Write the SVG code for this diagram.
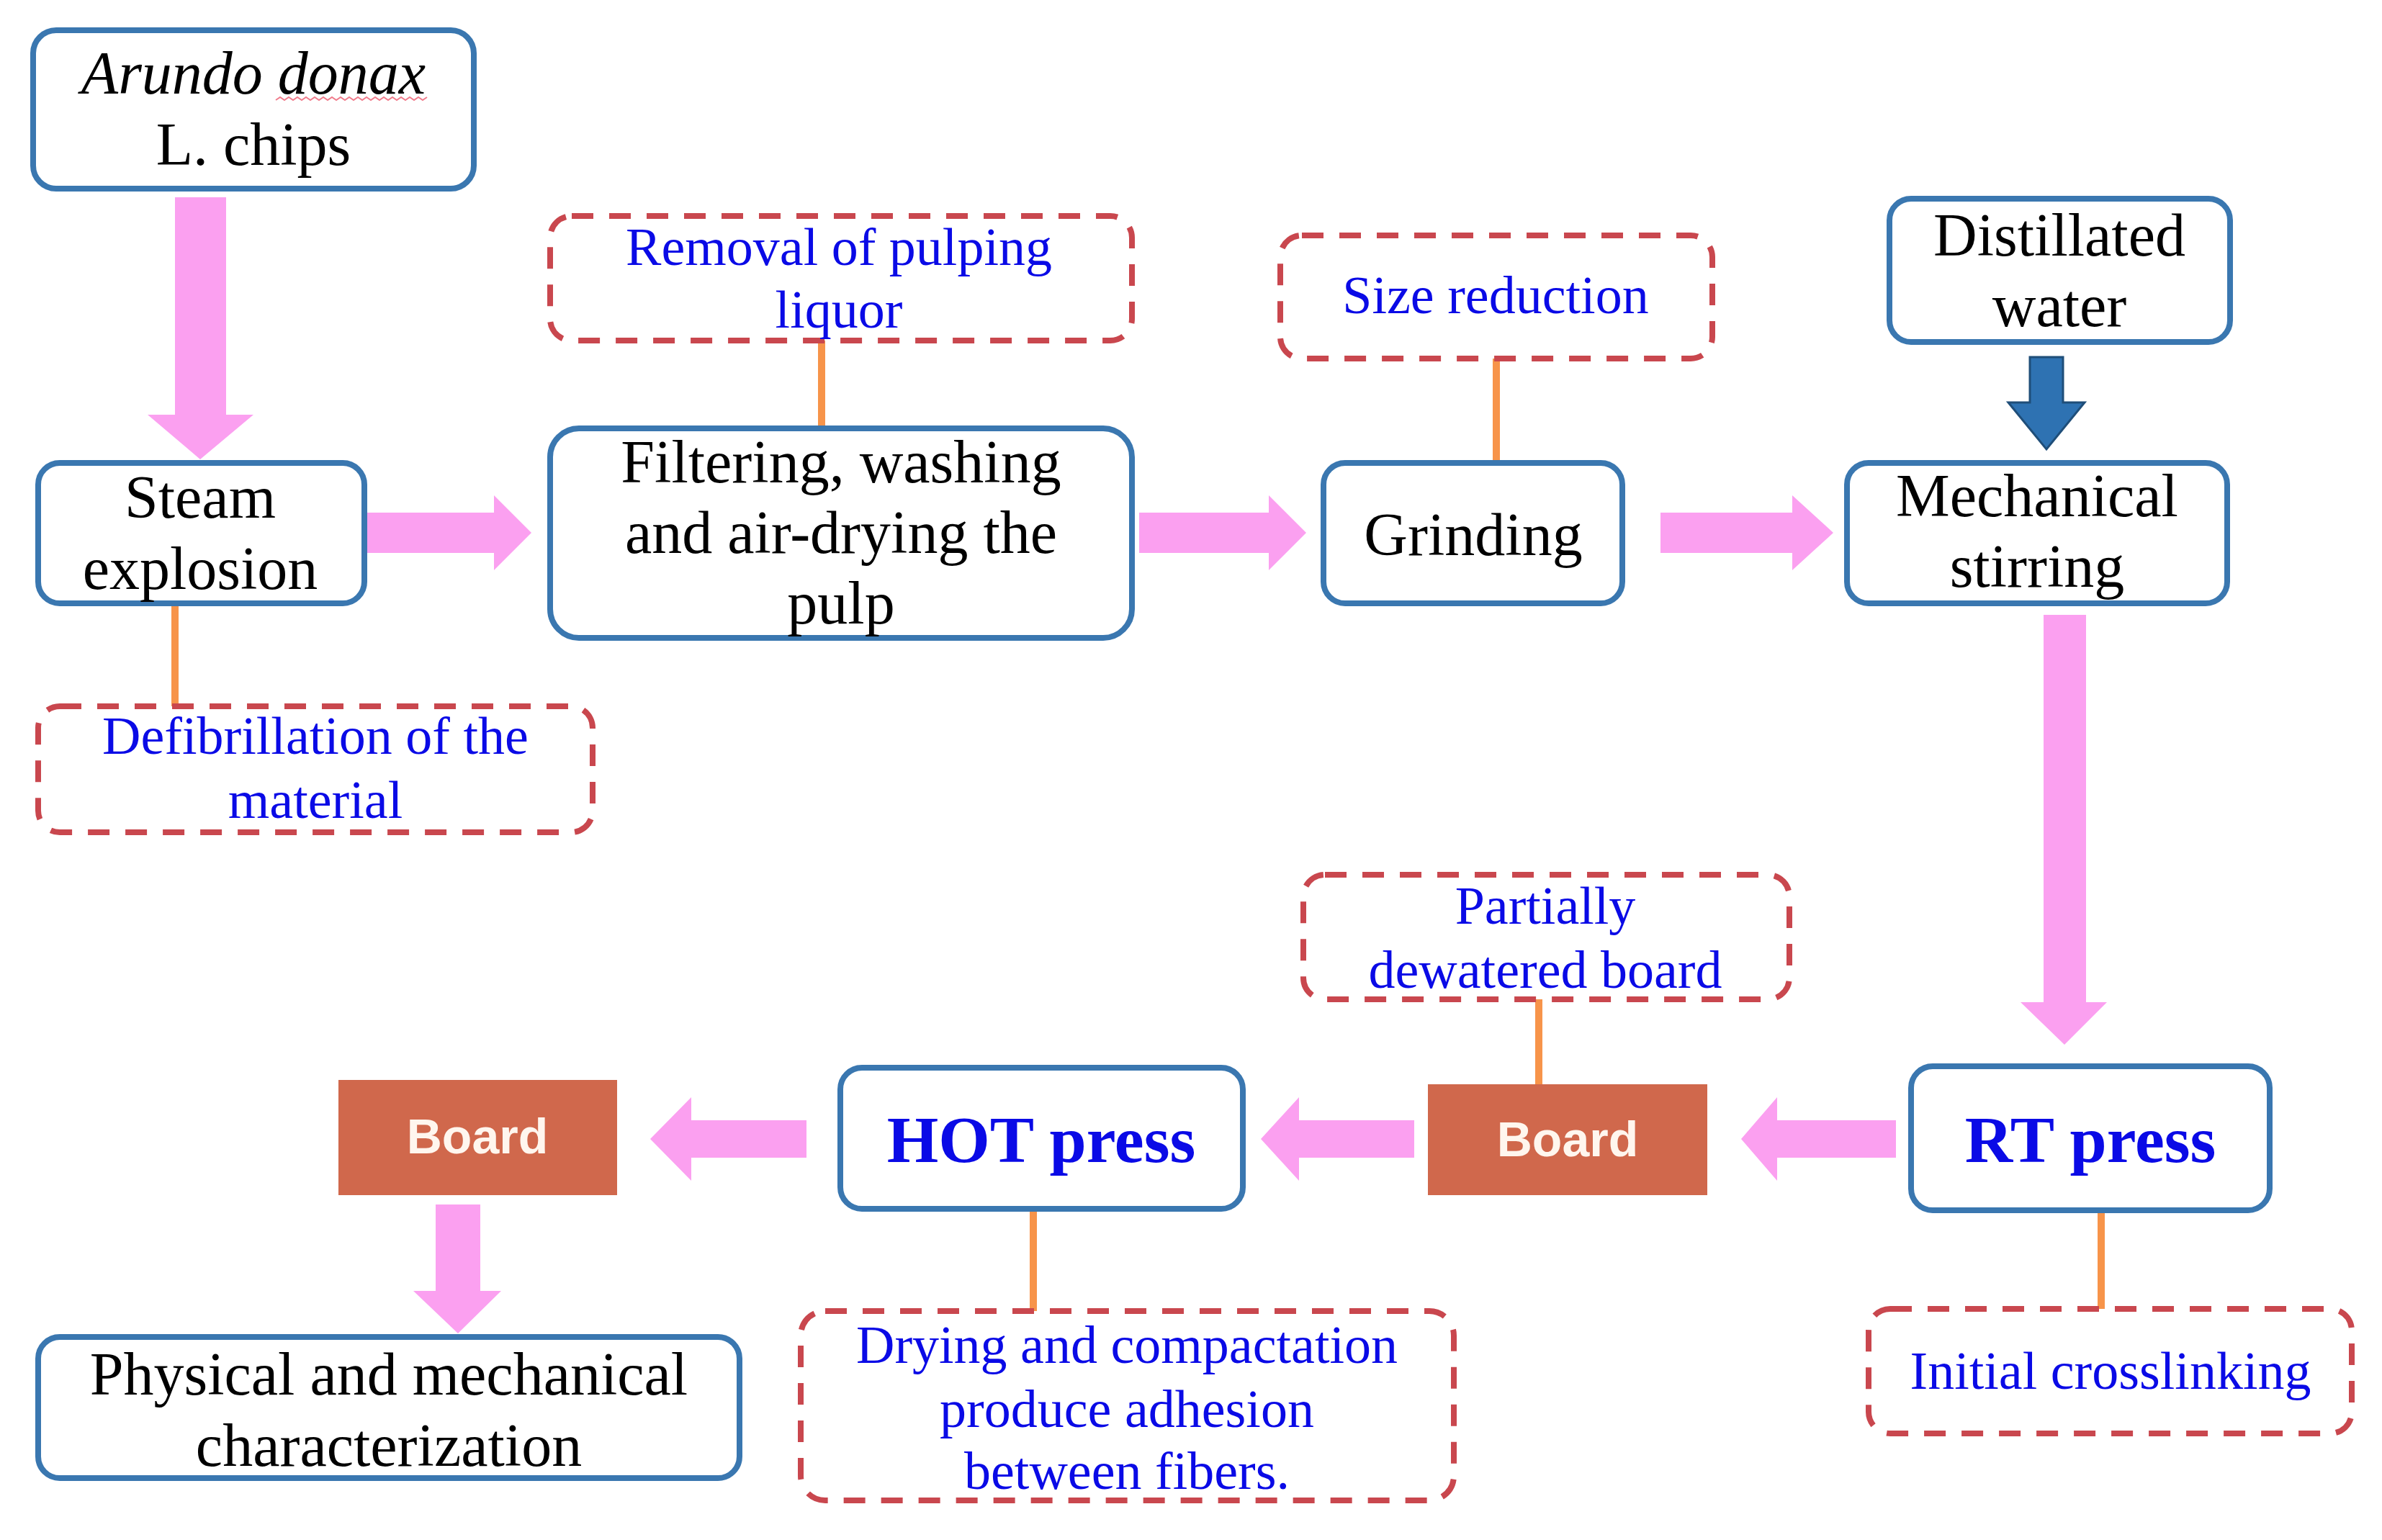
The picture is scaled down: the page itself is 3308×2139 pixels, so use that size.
<svg xmlns="http://www.w3.org/2000/svg" width="3308" height="2139" viewBox="0 0 3308 2139">
<style>
.box{fill:#fff;stroke:#3A77B0;stroke-width:8}
.dbox{fill:#fff;stroke:#C9474E;stroke-width:8;stroke-dasharray:30 22}
.board{fill:#D0684C}
.pa{fill:#FBA0F0}
.con{stroke:#F7944A;stroke-width:10;fill:none}
.t{font-family:"Liberation Serif",serif;font-size:84px;fill:#000;text-anchor:middle}
.b{font-family:"Liberation Serif",serif;font-size:74px;fill:#0A0AE6;text-anchor:middle}
.bb{font-family:"Liberation Serif",serif;font-size:92px;font-weight:bold;fill:#0A0AE6;text-anchor:middle}
.w{font-family:"Liberation Sans",sans-serif;font-size:68px;font-weight:bold;fill:#FFF6EE;text-anchor:middle}
</style>
<rect width="3308" height="2139" fill="#fff"/>
<g id="connectors">
<polygon class="pa" points="243,274 314,274 314,576 352,576 278,638 205,576 243,576"/>
<polygon class="pa" points="502,712 686,712 686,688 738,740 686,792 686,768 502,768"/>
<polygon class="pa" points="1582,712 1762,712 1762,688 1814,740 1762,792 1762,768 1582,768"/>
<polygon class="pa" points="2306,712 2489,712 2489,688 2546,740 2489,792 2489,768 2306,768"/>
<polygon fill="#2E72B2" stroke="#1F4E79" stroke-width="3" points="2819,496 2865,496 2865,559 2895,559 2842,624 2789,559 2819,559"/>
<polygon class="pa" points="2838,854 2897,854 2897,1392 2926,1392 2867,1451 2806,1392 2838,1392"/>
<polygon class="pa" points="2633,1556 2468,1556 2468,1524 2418,1582 2468,1640 2468,1608 2633,1608"/>
<polygon class="pa" points="1964,1556 1804,1556 1804,1524 1751,1582 1804,1640 1804,1608 1964,1608"/>
<polygon class="pa" points="1120,1556 960,1556 960,1524 903,1582 960,1640 960,1608 1120,1608"/>
<polygon class="pa" points="605,1673 667,1673 667,1793 696,1793 636,1852 574,1793 605,1793"/>
<line class="con" x1="243" y1="838" x2="243" y2="981"/>
<line class="con" x1="1141" y1="473" x2="1141" y2="595"/>
<line class="con" x1="2078" y1="498" x2="2078" y2="643"/>
<line class="con" x1="2137" y1="1388" x2="2137" y2="1506"/>
<line class="con" x1="1435" y1="1679" x2="1435" y2="1821"/>
<line class="con" x1="2918" y1="1681" x2="2918" y2="1818"/>
</g>
<g id="arundo">
<rect class="box" x="46" y="42" width="612" height="220" rx="32"/>
<text class="t" x="352" y="130" font-style="italic">Arundo donax</text>
<path d="M383,139 l6,-4 l6,4 l6,-4 l6,4 l6,-4 l6,4 l6,-4 l6,4 l6,-4 l6,4 l6,-4 l6,4 l6,-4 l6,4 l6,-4 l6,4 l6,-4 l6,4 l6,-4 l6,4 l6,-4 l6,4 l6,-4 l6,4 l6,-4 l6,4 l6,-4 l6,4 l6,-4 l6,4 l6,-4 l6,4 l6,-4 l6,4 l6,-4" fill="none" stroke="#F07C8C" stroke-width="2"/>
<text class="t" x="352" y="229">L. chips</text>
</g>
<g id="steam">
<rect class="box" x="53" y="643" width="453" height="195" rx="30"/>
<text class="t" x="278" y="719">Steam</text>
<text class="t" x="278" y="818">explosion</text>
</g>
<g id="defib">
<rect class="dbox" x="53" y="981" width="770" height="175" rx="30"/>
<text class="b" x="438" y="1047">Defibrillation of the</text>
<text class="b" x="438" y="1136">material</text>
</g>
<g id="removal">
<rect class="dbox" x="764" y="300" width="808" height="173" rx="30"/>
<text class="b" x="1165" y="368">Removal of pulping</text>
<text class="b" x="1165" y="455">liquor</text>
</g>
<g id="filtering">
<rect class="box" x="764" y="595" width="808" height="291" rx="40"/>
<text class="t" x="1168" y="670">Filtering, washing</text>
<text class="t" x="1168" y="768">and air-drying the</text>
<text class="t" x="1168" y="866">pulp</text>
</g>
<g id="size">
<rect class="dbox" x="1778" y="327" width="600" height="171" rx="30"/>
<text class="b" x="2077" y="435">Size reduction</text>
</g>
<g id="grinding">
<rect class="box" x="1838" y="643" width="415" height="195" rx="30"/>
<text class="t" x="2046" y="771">Grinding</text>
</g>
<g id="water">
<rect class="box" x="2624" y="276" width="473" height="199" rx="30"/>
<text class="t" x="2860" y="355">Distillated</text>
<text class="t" x="2860" y="453">water</text>
</g>
<g id="stirring">
<rect class="box" x="2565" y="643" width="528" height="195" rx="30"/>
<text class="t" x="2829" y="717">Mechanical</text>
<text class="t" x="2829" y="815">stirring</text>
</g>
<g id="rtpress">
<rect class="box" x="2654" y="1481" width="498" height="200" rx="30"/>
<text class="bb" x="2903" y="1614">RT press</text>
</g>
<g id="crosslinking">
<rect class="dbox" x="2595" y="1818" width="671" height="173" rx="30"/>
<text class="b" x="2931" y="1929">Initial crosslinking</text>
</g>
<g id="board2">
<rect class="board" x="1983" y="1506" width="388" height="154"/>
<text class="w" x="2177" y="1606">Board</text>
</g>
<g id="partially">
<rect class="dbox" x="1810" y="1215" width="675" height="173" rx="30"/>
<text class="b" x="2146" y="1283">Partially</text>
<text class="b" x="2146" y="1372">dewatered board</text>
</g>
<g id="hotpress">
<rect class="box" x="1167" y="1483" width="559" height="196" rx="30"/>
<text class="bb" x="1446" y="1614">HOT press</text>
</g>
<g id="drying">
<rect class="dbox" x="1112" y="1821" width="907" height="263" rx="34"/>
<text class="b" x="1565" y="1893">Drying and compactation</text>
<text class="b" x="1565" y="1982">produce adhesion</text>
<text class="b" x="1565" y="2068">between fibers.</text>
</g>
<g id="board1">
<rect class="board" x="470" y="1500" width="387" height="160"/>
<text class="w" x="663" y="1602">Board</text>
</g>
<g id="physical">
<rect class="box" x="53" y="1857" width="974" height="196" rx="30"/>
<text class="t" x="540" y="1937">Physical and mechanical</text>
<text class="t" x="540" y="2036">characterization</text>
</g>
</svg>
